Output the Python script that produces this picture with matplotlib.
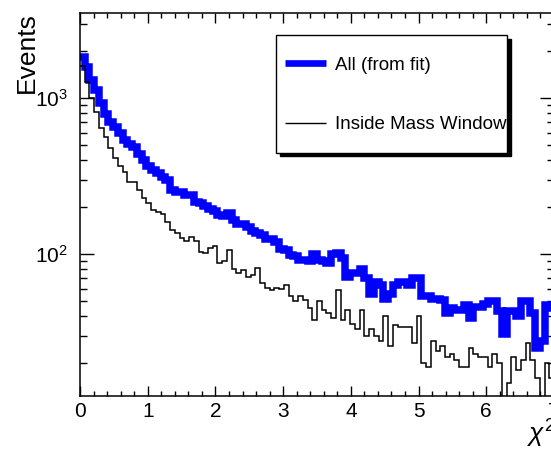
import numpy as np
import matplotlib
matplotlib.use("Agg")
import matplotlib.pyplot as plt
from matplotlib.lines import Line2D
from matplotlib.legend_handler import HandlerLine2D
from matplotlib.ticker import MultipleLocator, LogLocator, NullFormatter

plt.rcParams["font.family"] = ["Liberation Sans", "DejaVu Sans"]
plt.rcParams["mathtext.fontset"] = "custom"
plt.rcParams["mathtext.rm"] = "Liberation Sans"
plt.rcParams["mathtext.it"] = "Liberation Sans:italic"
plt.rcParams["mathtext.bf"] = "Liberation Sans:bold"

# chi^2 histogram, 100 bins of width 0.07 from 0 to 7
bin_lo, bin_hi, n_bins = 0.0, 7.0, 100

all_from_fit = [
    1833, 1581, 1309, 1130, 929, 794, 709, 658, 597, 541,
    510, 485, 440, 400, 370, 347, 330, 315, 300, 258,
    252, 250, 240, 240, 217, 212, 205, 194, 190, 178,
    176, 185, 165, 156, 156, 150, 140, 136, 133, 125,
    125, 120, 108, 107, 99, 97, 92, 92, 90, 100,
    92, 90, 88, 100, 102, 95, 72, 76, 76, 80,
    70, 56, 66, 64, 52, 56, 64, 66, 66, 64,
    70, 70, 54, 54, 52, 52, 51, 42, 45, 44,
    44, 47, 39, 46, 46, 48, 50, 50, 43, 31,
    43, 43, 40, 50, 50, 42, 25, 28, 47, 45,
]

inside_mass_window = [
    1600, 1276, 1000, 820, 643, 567, 478, 412, 368, 339,
    292, 290, 258, 228, 212, 192, 188, 180, 162, 143,
    136, 127, 122, 130, 122, 104, 102, 109, 113, 88,
    90, 106, 81, 76, 79, 71, 74, 82, 65, 61,
    59, 61, 60, 64, 54, 50, 54, 51, 45, 38,
    50, 44, 42, 39, 59, 38, 44, 36, 33, 44,
    30, 33, 30, 28, 40, 26, 35, 34, 34, 34,
    27, 40, 20, 19, 28, 24, 26, 22, 23, 21,
    19, 19, 25, 23, 22, 22, 19, 23, 20, 12,
    15, 22, 18, 21, 27, 21, 16, 10, 20, 16,
]

labels = ["All (from fit)", "Inside Mass Window"]

edges = np.linspace(bin_lo, bin_hi, n_bins + 1)


class CenteredLine(HandlerLine2D):
    """Legend line kept at the label's mid-height even in tall legend rows."""

    def create_artists(self, legend, orig_handle, xdescent, ydescent,
                       width, height, fontsize, trans):
        artists = super().create_artists(legend, orig_handle, xdescent,
                                         ydescent, width, height, fontsize,
                                         trans)
        for a in artists:
            a.set_ydata(np.full_like(a.get_xdata(), 0.35 * fontsize))
        return artists


W, H = 551, 450
fig = plt.figure(figsize=(W / 100, H / 100), dpi=100)
fig.patch.set_facecolor("white")

# plot frame: left 80px, right 554px (runs past the canvas), top 13px, bottom 396px
ax = fig.add_axes([80 / W, 1 - 396 / H, 474 / W, 383 / H])

blue = ax.stairs(all_from_fit, edges, baseline=None, color="#0000ff",
                 linewidth=5.4, zorder=2)
blue.set_joinstyle("miter")
blue.set_capstyle("butt")
black = ax.stairs(inside_mass_window, edges, baseline=None, color="black",
                  linewidth=1.1, zorder=3)

ax.set_xlim(0, 7)
ax.set_yscale("log")
ax.set_ylim(12.35, 3520)

ax.xaxis.set_major_locator(MultipleLocator(1))
ax.xaxis.set_minor_locator(MultipleLocator(0.2))
ax.yaxis.set_major_locator(LogLocator(base=10, numticks=10))
ax.yaxis.set_minor_locator(LogLocator(base=10, subs=np.arange(2, 10), numticks=20))
ax.yaxis.set_minor_formatter(NullFormatter())

ax.tick_params(which="both", direction="in", top=True, right=True,
               width=1.0, color="black")
ax.tick_params(axis="x", which="major", length=7.2, labelsize=15, pad=4)
ax.tick_params(axis="x", which="minor", length=3.6)
ax.tick_params(axis="y", which="major", length=10, labelsize=15, pad=9)
ax.tick_params(axis="y", which="minor", length=5)
for s in ax.spines.values():
    s.set_linewidth(1.1)

fig.text(27 / W, 1 - 12 / H, "Events", rotation=90, ha="center", va="top",
         fontsize=19)
fig.text(527 / W, 1 - 443 / H, r"$\chi^{2}$", ha="left", va="baseline",
         fontsize=19)

legend_lines = [Line2D([], [], color="#0000ff", linewidth=4.8, solid_capstyle="butt"),
                Line2D([], [], color="black", linewidth=1.0, solid_capstyle="butt")]
leg = ax.legend(
    handles=legend_lines, labels=labels,
    handler_map={Line2D: CenteredLine()},
    loc="upper left", bbox_to_anchor=(276 / W, 1 - 153 / H, 231 / W, 118 / H),
    bbox_transform=fig.transFigure, mode="expand", borderaxespad=0,
    fontsize=13.5, handlelength=2.19, handleheight=2.84, handletextpad=0.48,
    labelspacing=1.1, borderpad=0.5, fancybox=False, framealpha=1,
    edgecolor="black",
    shadow={"color": "black", "alpha": 1, "ox": 2.6, "oy": -2.6},
)
leg.get_frame().set_linewidth(1.0)

fig.savefig("out.png", dpi=100)
